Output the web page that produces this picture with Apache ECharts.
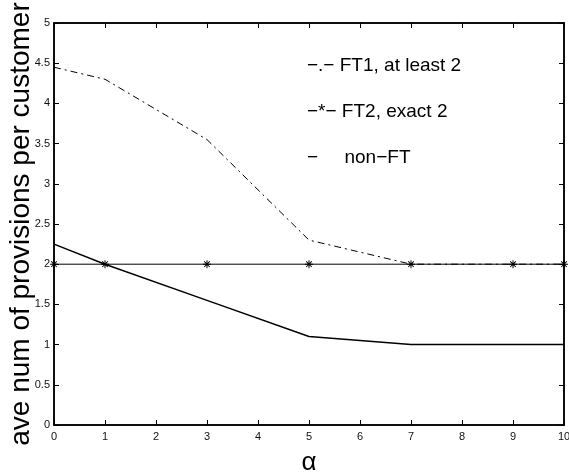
<!DOCTYPE html>
<html><head><meta charset="utf-8">
<script src="https://cdn.jsdelivr.net/npm/echarts@6/dist/echarts.min.js"></script>
<style>html,body{margin:0;padding:0;background:#fff}#c{width:569px;height:475px}</style>
</head><body><div id="c"></div>
<script>
const alphaValues = [0, 1, 3, 5, 7, 9, 10];
const ft1Values = [4.45, 4.3, 3.55, 2.3, 2.0, 2.0, 2.0];
const ft2Values = [2, 2, 2, 2, 2, 2, 2];
const nonFtValues = [2.25, 2.0, 1.55, 1.1, 1.0, 1.0, 1.0];
const seriesNames = ['\u2212.\u2212 FT1, at least 2', '\u2212*\u2212 FT2, exact 2', '\u2212     non\u2212FT'];

const pair = (xs, ys) => xs.map((x, i) => [x, ys[i]]);
const star = 'path://M-0.6,-5 L0.6,-5 L0.6,5 L-0.6,5 Z M-5,-0.6 L5,-0.6 L5,0.6 L-5,0.6 Z M-3.9,-3.05 L-3.05,-3.9 L3.9,3.05 L3.05,3.9 Z M3.05,-3.9 L3.9,-3.05 L-3.05,3.9 L-3.9,3.05 Z';
const font = 'Liberation Sans, Arial, sans-serif';
const tick = {show: true, inside: true, length: 5, lineStyle: {color: '#000', width: 1}};
const chart = echarts.init(document.getElementById('c'), null, {renderer: 'canvas'});
chart.setOption({
  animation: false,
  backgroundColor: '#fff',
  grid: {left: 54, right: 5, top: 23, bottom: 50, containLabel: false, outerBoundsMode: 'none',
    show: true, borderColor: '#000', borderWidth: 1.5, backgroundColor: '#fff'},
  legend: {
    orient: 'vertical', left: 297, top: 51, itemGap: 27, padding: 5,
    icon: 'none', itemWidth: 0, itemHeight: 0,
    data: seriesNames,
    textStyle: {fontFamily: font, fontSize: 19, color: '#000'}
  },
  xAxis: [
    {type: 'value', min: 0, max: 10, interval: 1, position: 'bottom',
      name: '\u03b1', nameLocation: 'middle', nameGap: 25, nameMoveOverlap: false,
      nameTextStyle: {fontFamily: font, fontSize: 26, color: '#000'},
      axisLine: {show: true, onZero: false, lineStyle: {color: '#000', width: 1.5}},
      axisTick: tick, splitLine: {show: false},
      axisLabel: {fontFamily: font, fontSize: 11, color: '#111', margin: 6}},
    {type: 'value', min: 0, max: 10, interval: 1, position: 'top', gridIndex: 0,
      axisLine: {show: true, onZero: false, lineStyle: {color: '#000', width: 1.5}},
      axisTick: tick, splitLine: {show: false}, axisLabel: {show: false}}
  ],
  yAxis: [
    {type: 'value', min: 0, max: 5, interval: 0.5, position: 'left',
      name: 'ave num of provisions per customer', nameLocation: 'middle', nameGap: 19, nameMoveOverlap: false,
      nameTextStyle: {fontFamily: font, fontSize: 28, color: '#000'},
      axisLine: {show: true, onZero: false, lineStyle: {color: '#000', width: 1.5}},
      axisTick: tick, splitLine: {show: false},
      axisLabel: {fontFamily: font, fontSize: 11, color: '#111', margin: 4}},
    {type: 'value', min: 0, max: 5, interval: 0.5, position: 'right', gridIndex: 0,
      axisLine: {show: true, onZero: false, lineStyle: {color: '#000', width: 1.5}},
      axisTick: tick, splitLine: {show: false}, axisLabel: {show: false}}
  ],
  series: [
    {name: seriesNames[0], type: 'line', data: pair(alphaValues, ft1Values), symbol: 'none',
      lineStyle: {color: '#000', width: 1, type: [7, 4, 2, 4]}, itemStyle: {color: '#000'}, z: 3},
    {name: seriesNames[1], type: 'line', data: pair(alphaValues, ft2Values), symbol: star, symbolSize: 8,
      showAllSymbol: true,
      lineStyle: {color: '#000', width: 1}, itemStyle: {color: '#000'}, z: 2},
    {name: seriesNames[2], type: 'line', data: pair(alphaValues, nonFtValues), symbol: 'none',
      lineStyle: {color: '#000', width: 1.5}, itemStyle: {color: '#000'}, z: 2}
  ]
});
</script></body></html>
